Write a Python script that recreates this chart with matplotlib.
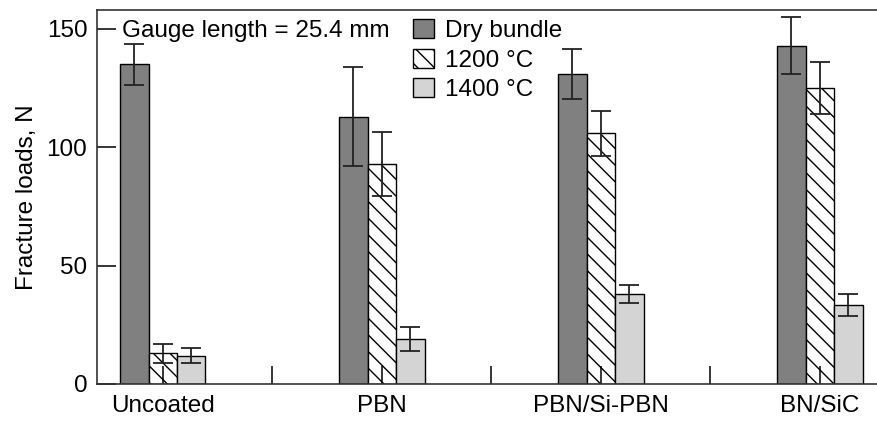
import matplotlib.pyplot as plt
import numpy as np
from matplotlib.patches import Patch

plt.rcParams['font.family'] = ['Liberation Sans', 'DejaVu Sans']
plt.rcParams['hatch.linewidth'] = 1.0

coatings = ["Uncoated", "PBN", "PBN/Si-PBN", "BN/SiC"]
series = ["Dry bundle", "1200 °C", "1400 °C"]
dry = [135, 113, 131, 143]
dry_err = [8.5, 21, 10.5, 12]
t1200 = [13, 93, 106, 125]
t1200_err = [4, 13.5, 9.5, 11]
t1400 = [12, 19, 38, 33.5]
t1400_err = [3, 5, 3.8, 4.7]


def main():
    fig = plt.figure(figsize=(8.78, 4.21), dpi=100)
    ax = fig.add_axes([0.1105, 0.0879, 0.8895, 0.8883])

    x = np.arange(len(coatings))
    w = 0.13
    styles = [
        dict(color="#808080", hatch=None),
        dict(color="white", hatch="\\\\"),
        dict(color="#d4d4d4", hatch=None),
    ]
    vals = [dry, t1200, t1400]
    errs = [dry_err, t1200_err, t1400_err]
    handles = []
    for i, (v, e, st) in enumerate(zip(vals, errs, styles)):
        pos = x + (i - 1) * w
        ax.bar(pos, v, width=w, color=st["color"], hatch=st["hatch"],
               edgecolor="black", linewidth=1.0, zorder=1)
        ax.errorbar(pos, v, yerr=e, fmt="none", ecolor="#222222",
                    elinewidth=1.3, capsize=7, capthick=1.3, zorder=3)
        handles.append(Patch(facecolor=st["color"], hatch=st["hatch"],
                             edgecolor="black", linewidth=1.0,
                             label=series[i]))

    ax.set_xlim(-0.30, 3.265)
    ax.set_ylim(0, 158)
    ax.set_yticks([0, 50, 100, 150])
    ax.set_xticks(x)
    ax.set_xticklabels(coatings)
    ax.set_xticks(x[:-1] + 0.5, minor=True)

    ax.spines["right"].set_visible(False)
    for s in ["top", "left", "bottom"]:
        ax.spines[s].set_linewidth(1.2)
        ax.spines[s].set_color("#333333")

    fs = 17.5
    ax.tick_params(axis="y", direction="in", length=14, width=1.1,
                   labelsize=fs, pad=7)
    ax.tick_params(axis="x", which="both", direction="in", length=13,
                   width=1.1, labelsize=fs, pad=8)
    ax.set_ylabel("Fracture loads, N", fontsize=fs, labelpad=6)

    ax.text(0.032, 0.945, "Gauge length = 25.4 mm", transform=ax.transAxes,
            fontsize=fs, va="center", ha="left")

    ax.legend(handles=handles, loc="upper left",
              bbox_to_anchor=(0.405, 0.975), frameon=False, fontsize=fs,
              handlelength=0.85, handleheight=0.8, handletextpad=0.45,
              labelspacing=0.28, borderpad=0, borderaxespad=0)

    fig.savefig("out.png", dpi=100)


if __name__ == "__main__":
    main()
